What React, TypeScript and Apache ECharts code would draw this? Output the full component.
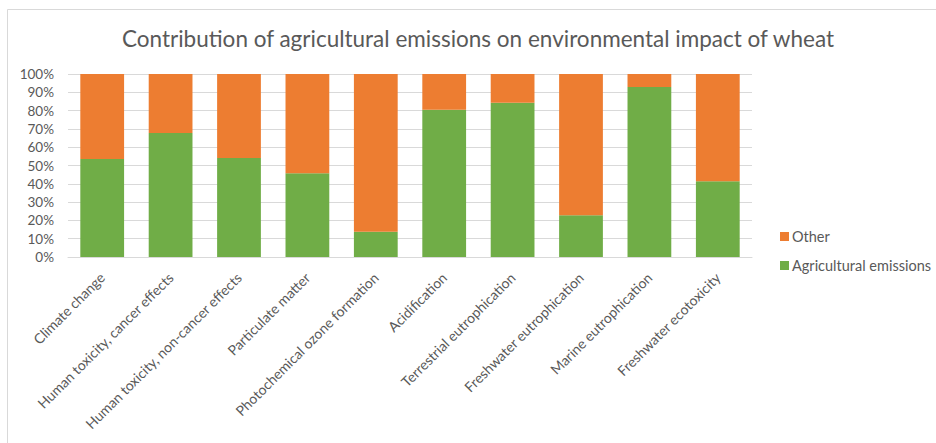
import React, { useEffect, useRef } from "react";
import * as echarts from "echarts";

const categories = [
  "Climate change",
  "Human toxicity, cancer effects",
  "Human toxicity, non-cancer effects",
  "Particulate matter",
  "Photochemical ozone formation",
  "Acidification",
  "Terrestrial eutrophication",
  "Freshwater eutrophication",
  "Marine eutrophication",
  "Freshwater ecotoxicity",
];
const agricultural = [53.6, 67.8, 54.1, 45.7, 13.8, 80.5, 84.3, 22.8, 92.9, 41.4];
const other = [46.4, 32.2, 45.9, 54.3, 86.2, 19.5, 15.7, 77.2, 7.1, 58.6];

const FONT = "Lato, 'Open Sans', sans-serif";
const TXT = "#595959";

export default function App() {
  const ref = useRef<HTMLDivElement>(null);
  useEffect(() => {
    if (!ref.current) return;
    const chart = echarts.init(ref.current, undefined, { renderer: "svg" });
    chart.setOption({
      animation: false,
      backgroundColor: "#ffffff",
      title: {
        text: "Contribution of agricultural emissions on environmental impact of wheat",
        left: 117,
        top: 22,
        textStyle: { fontFamily: FONT, fontSize: 22.5, fontWeight: "normal", color: TXT },
      },
      legend: {
        orient: "vertical",
        left: 775,
        top: 224,
        itemWidth: 9,
        itemHeight: 9,
        itemGap: 14,
        icon: "rect",
        data: ["Other", "Agricultural emissions"],
        textStyle: { fontFamily: FONT, fontSize: 14.5, color: TXT, padding: [0, 0, 0, -2] },
      },
      grid: { left: 68, right: 184, top: 74, bottom: 186, containLabel: false },
      xAxis: {
        type: "category",
        data: categories,
        axisLine: { lineStyle: { color: "#d9d9d9" } },
        axisTick: { show: false },
        axisLabel: {
          rotate: 45,
          interval: 0,
          margin: 18,
          fontFamily: FONT,
          fontSize: 14,
          color: TXT,
        },
      },
      yAxis: {
        type: "value",
        min: 0,
        max: 100,
        interval: 10,
        axisLine: { show: false },
        axisTick: { show: false },
        splitLine: { lineStyle: { color: "#d9d9d9" } },
        axisLabel: {
          formatter: "{value}%",
          margin: 14,
          fontFamily: FONT,
          fontSize: 13.5,
          color: TXT,
        },
      },
      series: [
        {
          name: "Agricultural emissions",
          type: "bar",
          stack: "total",
          data: agricultural,
          barCategoryGap: "36%",
          itemStyle: { color: "#70AD47" },
        },
        {
          name: "Other",
          type: "bar",
          stack: "total",
          data: other,
          barCategoryGap: "36%",
          itemStyle: { color: "#ED7D31" },
        },
      ],
      graphic: [
        {
          type: "line",
          shape: { x1: 7.5, y1: 9.5, x2: 936, y2: 9.5 },
          style: { stroke: "#d9d9d9", lineWidth: 1 },
        },
        {
          type: "line",
          shape: { x1: 7.5, y1: 9.5, x2: 7.5, y2: 443 },
          style: { stroke: "#d9d9d9", lineWidth: 1 },
        },
      ],
    });
    return () => chart.dispose();
  }, []);
  return (
    <div
      ref={ref}
      style={{ position: "fixed", left: 0, top: 0, width: 936, height: 443 }}
    />
  );
}
